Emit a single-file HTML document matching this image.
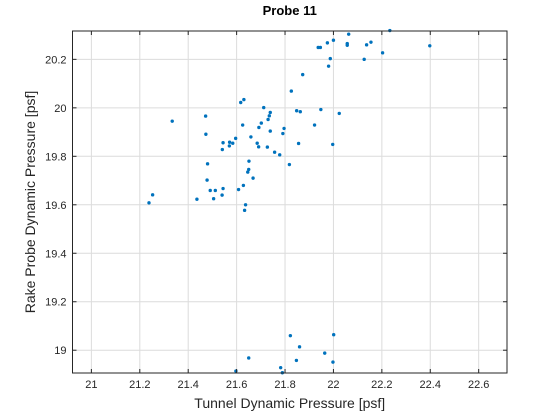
<!DOCTYPE html>
<html><head><meta charset="utf-8"><style>
html,body{margin:0;padding:0;background:#fff;}
svg{display:block;font-family:"Liberation Sans",Arial,sans-serif;}
</style></head><body>
<svg id="chart" width="560" height="420" viewBox="0 0 560 420" xmlns="http://www.w3.org/2000/svg">
<rect width="560" height="420" fill="#fff"/>
<g id="grid"></g><g id="pts"></g><g id="axes"></g>
</svg>
<script>
const xTicks=[21,21.2,21.4,21.6,21.8,22,22.2,22.4,22.6];
const yTicks=[19,19.2,19.4,19.6,19.8,20,20.2];
const xTickLabels=["21","21.2","21.4","21.6","21.8","22","22.2","22.4","22.6"];
const yTickLabels=["19","19.2","19.4","19.6","19.8","20","20.2"];
const tunnelX=[22.233,22.063,21.975,22.0,21.937,21.946,22.057,22.057,22.137,22.155,22.398,22.203,21.987,22.127,21.98,21.873,21.826,21.617,21.63,21.712,21.848,21.863,21.948,22.024,21.739,21.735,21.73,21.702,21.692,21.625,21.334,21.472,21.473,21.922,21.796,21.791,21.739,21.659,21.596,21.571,21.584,21.57,21.544,21.541,21.685,21.691,21.727,21.757,21.778,21.856,21.997,21.651,21.48,21.818,21.65,21.646,21.668,21.478,21.628,21.491,21.512,21.544,21.608,21.54,21.253,21.238,21.436,21.505,21.637,21.633,21.822,22.001,21.86,21.964,21.65,21.847,21.998,21.782,21.597,21.789];
const rakeY=[20.319,20.304,20.268,20.279,20.249,20.249,20.265,20.258,20.26,20.271,20.256,20.227,20.203,20.2,20.172,20.137,20.069,20.022,20.034,20.001,19.988,19.984,19.993,19.977,19.981,19.967,19.952,19.937,19.919,19.929,19.945,19.966,19.891,19.929,19.915,19.894,19.904,19.88,19.874,19.858,19.854,19.843,19.856,19.828,19.854,19.839,19.838,19.817,19.806,19.853,19.849,19.78,19.769,19.766,19.746,19.735,19.71,19.702,19.68,19.659,19.659,19.667,19.663,19.64,19.641,19.608,19.623,19.625,19.6,19.577,19.06,19.064,19.014,18.988,18.968,18.958,18.951,18.928,18.914,18.907];
const L=72.5,R=507,T=31,B=373;
const xMin=20.922,xMax=22.717,yMin=18.906,yMax=20.317;
const sx=v=>L+(v-xMin)/(xMax-xMin)*(R-L);
const sy=v=>B-(v-yMin)/(yMax-yMin)*(B-T);
const NS="http://www.w3.org/2000/svg";
function mk(tag,attrs,parent){const e=document.createElementNS(NS,tag);for(const k in attrs)e.setAttribute(k,attrs[k]);parent.appendChild(e);return e;}
const grid=document.getElementById('grid'),pts=document.getElementById('pts'),axes=document.getElementById('axes');
xTicks.forEach((v,i)=>{const x=sx(v);
 const g=mk('line',{x1:x,x2:x,y1:T,y2:B,stroke:'#dcdcdc','stroke-width':1},grid);
 
 mk('line',{x1:x,x2:x,y1:B,y2:B-4,stroke:'#262626'},axes);
 mk('line',{x1:x,x2:x,y1:T,y2:T+4,stroke:'#262626'},axes);
 const t=mk('text',{x:x,y:B+15,'text-anchor':'middle','font-size':11,fill:'#262626'},axes);t.textContent=xTickLabels[i];
 });
yTicks.forEach((v,i)=>{const y=sy(v);
 const g=mk('line',{x1:L,x2:R,y1:y,y2:y,stroke:'#dcdcdc','stroke-width':1},grid);
 
 mk('line',{x1:L,x2:L+4,y1:y,y2:y,stroke:'#262626'},axes);
 mk('line',{x1:R,x2:R-4,y1:y,y2:y,stroke:'#262626'},axes);
 const t=mk('text',{x:L-6,y:y+4,'text-anchor':'end','font-size':11,fill:'#262626'},axes);t.textContent=yTickLabels[i];
 });
tunnelX.forEach((v,i)=>{const c=mk('circle',{cx:sx(v),cy:sy(rakeY[i]),r:1.7,fill:'#0072bd'},pts);
 });
const box=mk('rect',{x:L,y:T,width:R-L,height:B-T,fill:'none',stroke:'#262626','stroke-width':1},axes);

const ti=mk('text',{x:(L+R)/2,y:15,'text-anchor':'middle','font-size':13,'font-weight':'bold',fill:'#000'},axes);ti.textContent='Probe 11';

const xl=mk('text',{x:(L+R)/2,y:408,'text-anchor':'middle','font-size':14,fill:'#262626'},axes);xl.textContent='Tunnel Dynamic Pressure [psf]';

const yl=mk('text',{x:0,y:0,'text-anchor':'middle','font-size':14,fill:'#262626',transform:`translate(35,${(T+B)/2}) rotate(-90)`},axes);yl.textContent='Rake Probe Dynamic Pressure [psf]';

</script>
</body></html>
